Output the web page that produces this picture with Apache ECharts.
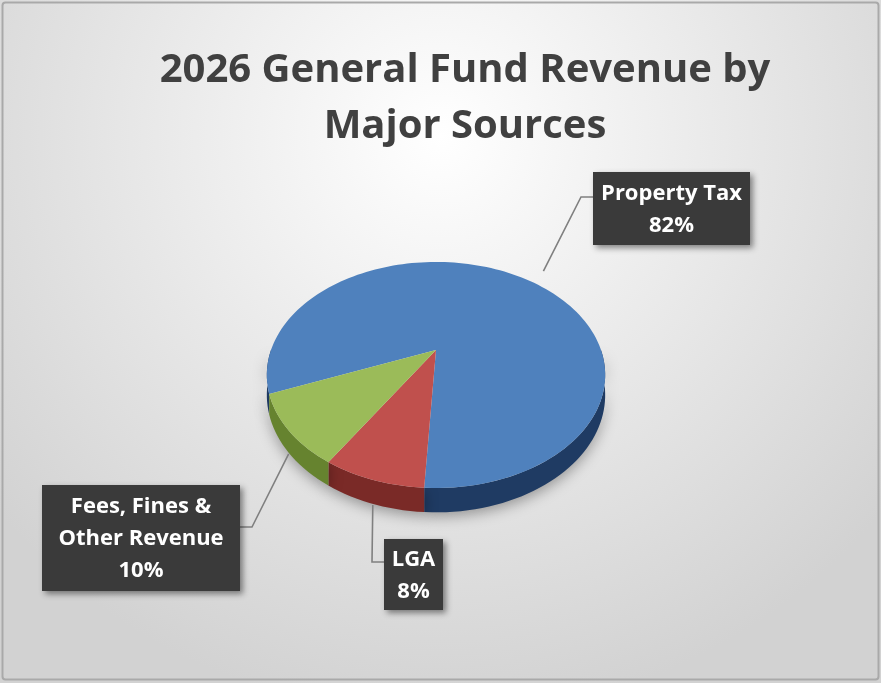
<!DOCTYPE html>
<html lang="en" style="height: 100%">

<head>
  <meta charset="utf-8">
</head>

<body style="height: 100%; margin: 0">
  <div id="container" style="height: 100%"></div>

  <script type="text/javascript" src="https://fastly.jsdelivr.net/npm/echarts@6/dist/echarts.min.js"></script>

  <script type="text/javascript">
    // data
    var categories = ['Property Tax', 'LGA', 'Fees, Fines &\nOther Revenue'];
    var shares = [82, 8, 10];
    var topColors = ['#4f81bd', '#c0504d', '#9bbb59'];
    var sideColors = ['#1f3b63', '#7a2a27', '#66832f'];

    // label boxes (layout only): box left/top/width/height and y of the leader elbow
    var labelBoxes = [
      { x: 593, y: 172, w: 157, h: 73, ey: 197 },
      { x: 384, y: 539, w: 59, h: 71, ey: 562 },
      { x: 42, y: 485, w: 198, h: 106, ey: 527 }
    ];

    // perspective pie geometry
    var CX = 436, CY = 350, A = 107.5, B = 165, K = 0.221, D = 19;
    var firstAngle = 248; // clockwise from 12 o'clock

    var total = shares.reduce((s, v) => s + v, 0);
    var starts = [];
    var acc = firstAngle;
    shares.forEach(v => { starts.push(acc); acc += v / total * 360; });

    function proj(deg, r, z) {
      var t = deg * Math.PI / 180;
      var u = r * Math.sin(t), v = -r * Math.cos(t);
      var w = 1 - K * v;
      return [CX + B * u / w, CY + A * v / w + D * z / w];
    }

    function arc(a0, a1, r, z) {
      var pts = [];
      var n = Math.max(2, Math.ceil(Math.abs(a1 - a0) / 2));
      for (var i = 0; i <= n; i++) pts.push(proj(a0 + (a1 - a0) * i / n, r, z));
      return pts;
    }

    // parts of [a0,a1] that face the viewer (90..270 mod 360)
    function frontParts(a0, a1) {
      var out = [];
      for (var k = -1; k <= 2; k++) {
        var lo = Math.max(a0, 90 + 360 * k), hi = Math.min(a1, 270 + 360 * k);
        if (hi > lo) out.push([lo, hi]);
      }
      return out;
    }

    var dom = document.getElementById('container');
    var myChart = echarts.init(dom, null, { renderer: 'canvas' });

    var option = {
      backgroundColor: {
        type: 'radial', x: 0.5, y: 0.2, r: 0.85,
        colorStops: [{ offset: 0, color: '#ffffff' }, { offset: 1, color: '#d2d2d2' }]
      },
      title: {
        text: '2026 General Fund Revenue by\nMajor Sources',
        left: 465,
        top: 43,
        padding: 0,
        textAlign: 'center',
        textStyle: {
          fontFamily: 'Open Sans',
          fontWeight: 'bold',
          fontSize: 40,
          lineHeight: 56,
          color: '#404040'
        }
      },
      graphic: [{
        type: 'rect',
        shape: { x: 2.5, y: 2.5, width: 876, height: 677, r: 3 },
        style: { fill: 'none', stroke: '#a9a9a9', lineWidth: 2 },
        silent: true
      }],
      series: [{
        type: 'custom',
        coordinateSystem: 'none',
        data: shares.map((v, i) => ({ name: categories[i], value: [v] })),
        renderItem: function (params, api) {
          var i = params.dataIndex;
          var a0 = starts[i];
          var a1 = a0 + api.value(0) / total * 360;
          var children = [];

          frontParts(a0, a1).forEach(p => {
            var top = arc(p[0], p[1], 1, 0);
            var bot = arc(p[0], p[1], 1, 1).reverse();
            children.push({
              type: 'polygon',
              z2: 1,
              shape: { points: top.concat(bot) },
              style: {
                fill: sideColors[i],
                shadowBlur: 14,
                shadowColor: 'rgba(0,0,0,0.35)',
                shadowOffsetY: 4
              }
            });
          });

          children.push({
            type: 'polygon',
            z2: 2,
            shape: { points: [[CX, CY]].concat(arc(a0, a1, 1, 0)) },
            style: { fill: topColors[i] }
          });

          // leader line + label box
          var mid = (a0 + a1) / 2;
          var cosm = Math.cos(mid * Math.PI / 180);
          var anchor = cosm < 0 ? proj(mid, 1, 1.05) : proj(mid + 6, 1.17, 0);
          var box = labelBoxes[i];
          var right = box.x > anchor[0] - 20;
          var edgeX = right ? box.x : box.x + box.w;
          var elbowX = right ? edgeX - 12 : edgeX + 12;
          children.push({
            type: 'polyline',
            z2: 3,
            shape: { points: [anchor, [elbowX, box.ey], [edgeX, box.ey]] },
            style: { stroke: '#808080', lineWidth: 1.6, fill: 'none' }
          });
          children.push({
            type: 'rect',
            z2: 4,
            shape: { x: box.x, y: box.y, width: box.w, height: box.h },
            style: {
              fill: '#3a3a3a',
              shadowBlur: 6,
              shadowOffsetX: 3,
              shadowOffsetY: 3,
              shadowColor: 'rgba(0,0,0,0.45)'
            }
          });
          children.push({
            type: 'text',
            z2: 5,
            x: box.x + box.w / 2,
            y: box.y + box.h / 2 + 1,
            style: {
              text: categories[i] + '\n' + api.value(0) + '%',
              align: 'center',
              verticalAlign: 'middle',
              fill: '#ffffff',
              fontFamily: 'Open Sans',
              fontWeight: 'bold',
              fontSize: 22,
              lineHeight: 32
            }
          });

          return { type: 'group', children: children };
        }
      }]
    };

    myChart.setOption(option);
    window.addEventListener('resize', myChart.resize);
  </script>
</body>

</html>
